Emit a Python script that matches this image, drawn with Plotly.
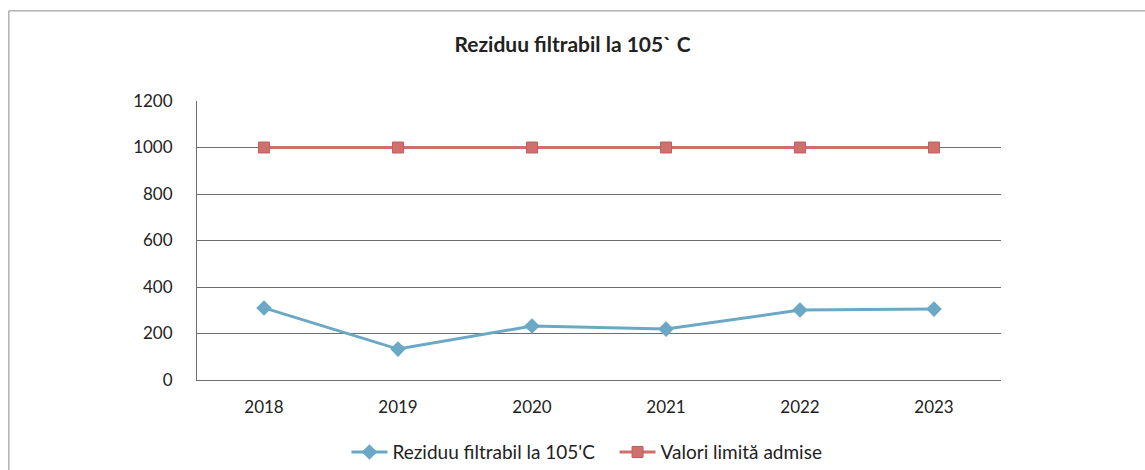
import plotly.graph_objects as go

years = ["2018", "2019", "2020", "2021", "2022", "2023"]
reziduu = [310, 133, 232, 219, 301, 305]
limita = [1000, 1000, 1000, 1000, 1000, 1000]

font_family = "Lato, 'Open Sans', sans-serif"

fig = go.Figure()

fig.add_trace(go.Scatter(
    x=years, y=reziduu, name="Reziduu filtrabil la 105'C   ",
    mode="lines+markers",
    line=dict(color="#6aa8c6", width=3),
    marker=dict(symbol="diamond", size=12, color="#6aa8c6"),
))
fig.add_trace(go.Scatter(
    x=years, y=limita, name="Valori limită admise",
    mode="lines+markers",
    line=dict(color="#cf706c", width=3),
    marker=dict(symbol="square", size=11, color="#cf706c",
                line=dict(color="#c06060", width=1)),
))

# outer chart frame (top and left edges visible in the scan)
fig.add_shape(type="line", xref="paper", yref="paper",
              x0=-0.234, x1=1.2, y0=1.323, y1=1.323,
              line=dict(color="#8a8a8a", width=1))
fig.add_shape(type="line", xref="paper", yref="paper",
              x0=-0.234, x1=-0.234, y0=1.323, y1=-0.4,
              line=dict(color="#8a8a8a", width=1))

fig.update_layout(
    width=1145, height=470,
    margin=dict(l=197, r=144, t=101, b=90, autoexpand=False),
    paper_bgcolor="white", plot_bgcolor="white",
    font=dict(family=font_family, size=17, color="#222"),
    title=dict(text="<b>Reziduu filtrabil la 105` C</b>", x=0.5, xanchor="center",
               y=0.906, yanchor="middle", font=dict(size=21, color="#222")),
    showlegend=True,
    legend=dict(orientation="h", x=0.485, xanchor="center",
                yref="container", y=0.038, yanchor="middle",
                font=dict(size=19), itemwidth=36),
)

fig.update_xaxes(
    type="category", range=[-0.5, 5.5],
    showgrid=False, showline=True, linecolor="#6e6e6e", linewidth=1,
    ticks="", ticklabelstandoff=12,
    tickfont=dict(size=17),
)
fig.update_yaxes(
    range=[0, 1200], dtick=200,
    showgrid=True, gridcolor="#6e6e6e", gridwidth=1,
    showline=True, linecolor="#6e6e6e", linewidth=1,
    zeroline=False, ticks="", ticklabelstandoff=20,
    tickfont=dict(size=17),
)

fig.write_html("out.html", config={"displayModeBar": False},
               post_script="document.body.style.margin='0';")
